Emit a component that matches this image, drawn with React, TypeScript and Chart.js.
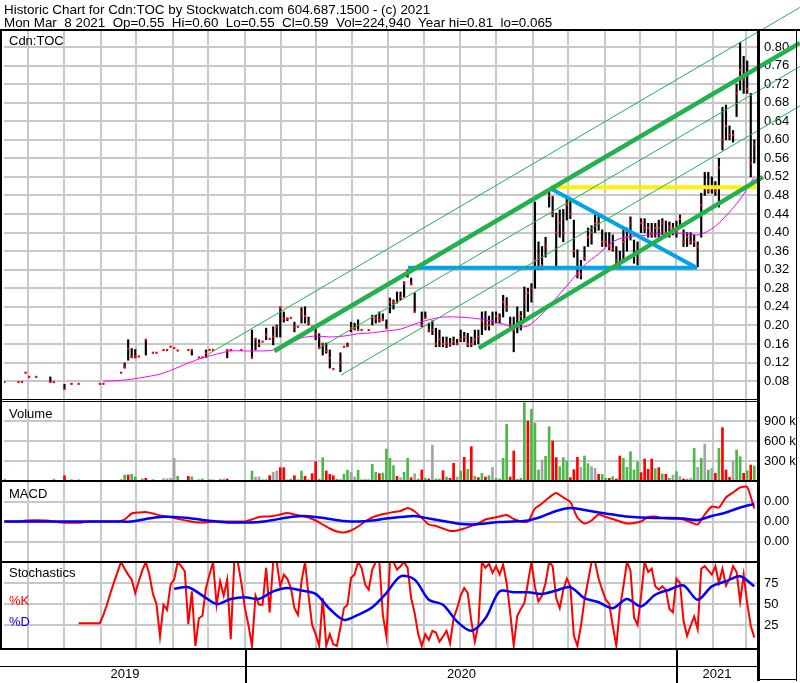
import { useEffect, useRef } from "react";
import { Chart, registerables } from "chart.js";

Chart.register(...registerables);

// x values are calendar days counted from 2019-07-01
const FIRST_DAY = -20; // first daily sample
const DAILY_STEP = 3;
const MACD_STEP = 6;
const SMOOTH_STEP = 12;
const X_MIN = -20.3;
const X_MAX = 618.3;

const monthStarts = [0, 31, 62, 92, 123, 153, 184, 215, 244, 275, 305, 336, 366, 397, 428, 458, 489, 519, 550, 581, 609];
const yearStarts = [184, 550];
const yearLabels = ["2019", "2020", "2021"];

const priceTicks = [0.08, 0.12, 0.16, 0.2, 0.24, 0.28, 0.32, 0.36, 0.4, 0.44, 0.48, 0.52, 0.56, 0.6, 0.64, 0.68, 0.72, 0.76, 0.8];
const volumeTicks = [300, 600, 900];
const macdTicks = [-0.004, 0, 0.004];
const stochTicks = [25, 50, 75];

// daily price samples (high / low / close), null = no trade
const high = [
  0.078, null, null, null, 0.078, 0.078, 0.098, 0.089, null, 0.089,
  null, null, null, 0.089, 0.078, null, null, 0.073, null, 0.074,
  null, 0.074, null, null, null, null, null, 0.074, 0.074, null,
  null, null, null, 0.098, 0.119, 0.169, 0.15, 0.148, 0.133, null,
  0.169, null, 0.141, 0.141, null, 0.147, 0.147, 0.154, 0.151, 0.146,
  null, null, 0.147, 0.147, null, 0.131, 0.131, 0.147, 0.147, 0.147,
  null, null, null, 0.147, 0.147, null, null, 0.147, null, null,
  0.19, 0.171, 0.169, 0.165, 0.194, 0.171, 0.197, 0.201, 0.24, 0.229,
  0.216, 0.216, 0.207, 0.197, 0.238, 0.24, 0.218, 0.197, 0.194, 0.182,
  0.162, 0.162, 0.147, 0.106, null, 0.141, 0.154, 0.162, 0.207, 0.205,
  0.212, 0.19, null, 0.19, 0.222, 0.222, 0.229, 0.225, 0.212, 0.259,
  0.255, 0.272, 0.272, 0.294, 0.319, 0.302, 0.27, null, 0.229, 0.229,
  0.205, 0.21, 0.194, 0.19, 0.175, 0.175, 0.172, 0.175, 0.17, 0.19,
  0.185, 0.183, 0.175, 0.19, 0.19, 0.229, 0.23, 0.22, 0.229, 0.229,
  0.225, 0.265, 0.26, 0.218, 0.218, 0.24, 0.23, 0.283, 0.28, 0.29,
  0.466, 0.38, 0.37, 0.39, 0.492, 0.478, 0.442, 0.449, 0.45, 0.478,
  0.47, 0.427, 0.363, 0.34, 0.37, 0.41, 0.415, 0.438, 0.435, 0.406,
  0.4, 0.4, 0.395, 0.37, 0.36, 0.41, 0.41, 0.434, 0.384, 0.38,
  0.43, 0.43, 0.42, 0.42, 0.42, 0.427, 0.43, 0.425, 0.423, 0.42,
  0.425, 0.438, 0.406, 0.4, 0.4, 0.395, 0.38, 0.485, 0.53, 0.53,
  0.52, 0.51, 0.56, 0.67, 0.675, 0.63, 0.62, 0.72, 0.81, 0.78,
  0.77, 0.7, 0.6,
];
const low = [
  0.078, null, null, null, 0.078, 0.078, 0.098, 0.089, null, 0.089,
  null, null, null, 0.078, 0.078, null, null, 0.063, null, 0.074,
  null, 0.074, null, null, null, null, null, 0.074, 0.074, null,
  null, null, null, 0.098, 0.108, 0.125, 0.13, 0.13, 0.133, null,
  0.136, null, 0.141, 0.141, null, 0.147, 0.147, 0.154, 0.151, 0.146,
  null, null, 0.147, 0.136, null, 0.131, 0.131, 0.131, 0.147, 0.147,
  null, null, null, 0.13, 0.147, null, null, 0.147, null, null,
  0.13, 0.147, 0.154, 0.165, 0.169, 0.171, 0.158, 0.175, 0.175, 0.207,
  0.21, 0.216, 0.186, 0.197, 0.205, 0.205, 0.201, 0.197, 0.169, 0.15,
  0.136, 0.14, 0.108, 0.106, null, 0.1, 0.154, 0.154, 0.186, 0.19,
  0.19, 0.19, null, 0.19, 0.201, 0.205, 0.207, 0.21, 0.194, 0.227,
  0.235, 0.248, 0.255, 0.261, 0.304, 0.287, 0.229, null, 0.197, 0.216,
  0.186, 0.18, 0.154, 0.154, 0.154, 0.152, 0.155, 0.158, 0.158, 0.165,
  0.165, 0.154, 0.154, 0.158, 0.16, 0.18, 0.19, 0.19, 0.201, 0.205,
  0.205, 0.218, 0.23, 0.19, 0.143, 0.184, 0.19, 0.212, 0.23, 0.25,
  0.28, 0.32, 0.32, 0.347, 0.455, 0.434, 0.326, 0.39, 0.38, 0.427,
  0.43, 0.347, 0.302, 0.3, 0.34, 0.37, 0.375, 0.4, 0.405, 0.37,
  0.37, 0.363, 0.36, 0.326, 0.322, 0.34, 0.36, 0.384, 0.334, 0.33,
  0.4, 0.4, 0.39, 0.39, 0.39, 0.39, 0.395, 0.39, 0.39, 0.395,
  0.39, 0.412, 0.37, 0.37, 0.375, 0.37, 0.326, 0.39, 0.48, 0.485,
  0.485, 0.48, 0.455, 0.578, 0.6, 0.6, 0.595, 0.65, 0.707, 0.7,
  0.7, 0.52, 0.55,
];
const close = [
  0.078, null, null, null, 0.078, 0.078, 0.098, 0.089, null, 0.089,
  null, null, null, 0.078, 0.078, null, null, 0.063, null, 0.074,
  null, 0.074, null, null, null, null, null, 0.074, 0.074, null,
  null, null, null, 0.098, 0.11, 0.15, 0.133, 0.133, 0.133, null,
  0.169, null, 0.141, 0.141, null, 0.147, 0.147, 0.154, 0.151, 0.146,
  null, null, 0.147, 0.147, null, 0.131, 0.131, 0.14, 0.147, 0.147,
  null, null, null, 0.147, 0.147, null, null, 0.147, null, null,
  0.13, 0.171, 0.16, 0.165, 0.18, 0.171, 0.176, 0.197, 0.238, 0.215,
  0.214, 0.216, 0.197, 0.197, 0.225, 0.22, 0.205, 0.197, 0.182, 0.151,
  0.16, 0.145, 0.13, 0.106, null, 0.12, 0.154, 0.156, 0.195, 0.193,
  0.19, 0.19, null, 0.19, 0.218, 0.215, 0.212, 0.212, 0.194, 0.25,
  0.25, 0.25, 0.26, 0.29, 0.319, 0.29, 0.229, null, 0.2, 0.216,
  0.19, 0.19, 0.16, 0.17, 0.16, 0.162, 0.16, 0.165, 0.16, 0.17,
  0.175, 0.16, 0.16, 0.17, 0.175, 0.21, 0.2, 0.2, 0.21, 0.22,
  0.215, 0.25, 0.24, 0.2, 0.19, 0.2, 0.22, 0.25, 0.27, 0.28,
  0.34, 0.35, 0.33, 0.37, 0.48, 0.44, 0.4, 0.42, 0.4, 0.46,
  0.44, 0.36, 0.31, 0.31, 0.345, 0.39, 0.4, 0.42, 0.42, 0.38,
  0.38, 0.37, 0.365, 0.34, 0.33, 0.38, 0.39, 0.42, 0.35, 0.36,
  0.42, 0.41, 0.41, 0.4, 0.41, 0.41, 0.42, 0.4, 0.41, 0.41,
  0.4, 0.43, 0.38, 0.39, 0.38, 0.38, 0.37, 0.46, 0.5, 0.49,
  0.5, 0.49, 0.54, 0.6, 0.63, 0.61, 0.61, 0.7, 0.75, 0.73,
  0.71, 0.55, 0.59,
];

// volume in thousands, same daily samples
const volume = [
  30, 0, 0, 0, 0, 0, 0, 0, 0, 0,
  0, 0, 0, 0, 30, 0, 0, 80, 0, 20,
  0, 20, 0, 0, 0, 0, 0, 0, 0, 0,
  0, 0, 0, 20, 90, 90, 100, 60, 0, 30,
  40, 0, 20, 0, 0, 35, 35, 40, 340, 70,
  0, 0, 70, 60, 0, 20, 30, 0, 20, 20,
  0, 30, 30, 30, 0, 0, 0, 0, 0, 0,
  150, 60, 60, 20, 20, 80, 130, 150, 200, 200,
  20, 30, 80, 20, 150, 70, 20, 110, 290, 20,
  350, 150, 100, 80, 30, 20, 100, 160, 130, 60,
  160, 20, 20, 20, 250, 130, 110, 120, 480, 340,
  230, 70, 50, 130, 340, 50, 110, 30, 165, 40,
  30, 540, 30, 30, 155, 60, 40, 265, 60, 150,
  355, 175, 515, 70, 50, 115, 60, 80, 205, 40,
  30, 340, 850, 60, 450, 25, 40, 1175, 900, 1075,
  870, 165, 315, 370, 815, 600, 350, 215, 350, 300,
  50, 170, 355, 205, 375, 260, 215, 190, 100, 100,
  40, 40, 65, 30, 375, 340, 205, 440, 165, 290,
  125, 330, 175, 330, 185, 200, 105, 100, 40, 90,
  140, 65, 30, 20, 40, 490, 205, 340, 555, 165,
  190, 115, 490, 800, 165, 55, 305, 465, 365, 115,
  155, 240, 225,
];
// g = up, r = down, n = unchanged
const volumeKind = (
  "gggggggggg ggggnggrgg gngggggggg gggggrgggg rggggnnnng ggrggggggn gnnrgggggg " +
  "gnnngrnnrr ngrggrgrrr grrrggggnn ggggggrggg grnggrngrg rnggrgrrng rgrgrgrgng " +
  "gggrrgggrg ggnggrrggg rrrnggnnrg grgrrggggg rrrrgrgrgn gnrrngngng nrgrrrnggr grg"
).replace(/ /g, "").split("");

// MACD (every 6 days)
const macd = [
  0, 0, 0, 0.0002, 0.00026, 0.00026, 0.0002, 0, -0.0002, -0.00026,
  -0.00026, -0.0002, 0, 0, 0, 0, 0, 0.0004, 0.0016, 0.0018,
  0.0019, 0.0016, 0.0012, 0.001, 0.0007, 0.0004, 0.0001, -0.00014, -0.0002, -0.0001,
  0, 0, 0, 0, 0, 0.0004, 0.0009, 0.001, 0.0011, 0.0014,
  0.0017, 0.0014, 0.0011, 0.0008, 0.0002, -0.0006, -0.0014, -0.002, -0.0022, -0.0018,
  -0.001, 0, 0.0008, 0.0013, 0.0016, 0.0019, 0.0021, 0.0027, 0.002, 0.0007,
  -0.0006, -0.0009, -0.0014, -0.0019, -0.0018, -0.0014, -0.0009, -0.0004, 0.0004, 0.0007,
  0.001, 0.0013, 0.0005, 0, 0, 0.0026, 0.0036, 0.0048, 0.0057, 0.0048,
  0.0039, 0.0008, -0.0004, 0.0002, 0.0014, 0.0009, 0.0005, 0, -0.0004, -0.0003,
  0, 0.0009, 0.001, 0.0007, 0.00054, 0.00054, 0.0004, -0.00014, -0.0006, 0.0014,
  0.003, 0.0028, 0.0048, 0.0058, 0.0068, 0.0069, 0.0026,
];
// MACD signal (every 12 days)
const macdSignal = [
  0, 0, 0, 0, 0, 0, 0, 0, 0, 0,
  0.0005, 0.0009, 0.0009, 0.0007, 0.0003, 0, -0.0002, -0.0002, -0.0001, 0.0003,
  0.0008, 0.0011, 0.0009, 0.0005, 0.0001, 0, 0.0002, 0.0006, 0.0009, 0.0011,
  0.0006, 0.0001, -0.0004, -0.0006, -0.0004, -0.0001, 0, 0.0002, 0.001, 0.0021,
  0.0027, 0.0023, 0.0018, 0.0014, 0.001, 0.0008, 0.0007, 0.0007, 0.0006, 0.0003,
  0.0011, 0.0018, 0.0028, 0.0035,
];
// Stochastics %K (daily samples)
const stochK = [
  null, null, null, null, null, null, null, null, null, null,
  null, null, null, null, null, null, null, null, null, null,
  null, 27, 27, 27, 27, 27, 27, 27, 37, 49,
  63, 76, 88, 100, 92, 85, 79, 63, 77, 90,
  100, 85, 62, 50, 11, 49, 43, 73, 79, 100,
  95, 89, 26, 65, 0, 33, 36, 69, 85, 100,
  49, 77, 60, 79, 8, 100, 100, 75, 45, 25,
  0, 60, 49, 49, 93, 40, 100, 100, 71, 85,
  80, 69, 45, 37, 77, 100, 60, 25, 14, 0,
  57, 0, 14, 2, 0, 22, 45, 49, 81, 85,
  100, 93, 73, 67, 91, 100, 100, 37, 11, 100,
  100, 91, 95, 100, 93, 57, 39, 14, 0, 14,
  7, 18, 16, 5, 11, 18, 3, 33, 45, 60,
  69, 63, 30, 5, 25, 100, 93, 98, 87, 95,
  85, 97, 75, 39, 0, 36, 44, 51, 75, 100,
  70, 53, 60, 75, 100, 95, 57, 45, 67, 80,
  71, 12, 0, 24, 55, 77, 100, 100, 80, 67,
  55, 50, 24, 0, 45, 71, 100, 90, 34, 25,
  60, 100, 88, 92, 71, 67, 71, 67, 44, 40,
  80, 75, 30, 12, 24, 35, 20, 92, 95, 90,
  85, 95, 75, 92, 72, 80, 95, 88, 53, 85,
  51, 24, 10,
];
// Stochastics %D (every 12 days)
const stochD = [
  null, null, null, null, null, null, null, null, null, null,
  null, null, 68, 70, 60, 50, 56, 58, 56, 65,
  69, 66, 62, 44, 31, 37, 46, 63, 83, 79,
  55, 49, 29, 18, 33, 65, 64, 64, 62, 66,
  70, 57, 52, 45, 56, 47, 61, 67, 72, 55,
  71, 77, 83, 71,
];
// moving average (every 12 days)
const movingAvg = [
  null, null, null, null, null, null, null, 0.08, 0.081, 0.084,
  0.089, 0.095, 0.106, 0.119, 0.13, 0.138, 0.145, 0.145, 0.145, 0.147,
  0.16, 0.173, 0.177, 0.175, 0.177, 0.182, 0.184, 0.188, 0.192, 0.203,
  0.212, 0.218, 0.218, 0.216, 0.212, 0.205, 0.197, 0.199, 0.225, 0.259,
  0.294, 0.33, 0.354, 0.38, 0.391, 0.393, 0.397, 0.397, 0.399, 0.395,
  0.408, 0.436, 0.472, 0.52,
];

// drawn trend lines: [day, price] end points
const channelThick = [
  [[208.9, 0.1448], [654.7, 0.8086]],
  [[382.3, 0.151], [623.4, 0.52]],
];
const channelThin = [
  [[153.1, 0.1384], [654.7, 0.8853]],
  [[247.0, 0.151], [654.7, 0.758]],
  [[265.6, 0.093], [654.7, 0.673]],
];
const triangleBlue = [
  [[322.3, 0.324], [567.5, 0.324]],
  [[444.0, 0.494], [565.9, 0.326]],
];
const resistanceYellow = [[443.2, 0.498], [620.8, 0.498]];

const FONT = '"Liberation Sans", Arial, Helvetica, sans-serif';
const GRID = "#c8c8c8";

const dayOf = (start: number, step: number, i: number) => start + step * i;

function lineSet(pts: number[][], color: string, width: number) {
  return {
    type: "line" as const,
    yAxisID: "yp",
    data: pts.map(([x, y]) => ({ x, y })),
    borderColor: color,
    borderWidth: width,
    pointRadius: 0,
    clip: false as any,
    order: 0,
  };
}

const framePlugin = {
  id: "frame",
  afterDraw(chart: any) {
    const { ctx, chartArea, scales } = chart;
    const xs = scales.x;
    const R = chartArea.right;
    const B = chartArea.bottom;
    const T = chartArea.top;
    ctx.save();
    ctx.fillStyle = "#000";
    ctx.fillRect(0, T - 2, chart.width, 2);
    ctx.fillRect(0, T - 2, 2, B - T + 4);
    ctx.fillRect(0, scales.yv.top - 1, R, 1);
    ctx.fillRect(0, scales.yv.top + 1, R, 1);
    ctx.fillRect(0, scales.ym.top - 1, R, 2);
    ctx.fillRect(0, scales.ys.top - 1, R, 2);
    ctx.fillRect(0, B, R, 2);
    ctx.fillRect(0, B + 18, R, 1);
    const bounds = [chartArea.left];
    for (const d of yearStarts) {
      const px = Math.round(xs.getPixelForValue(d)) + 1;
      ctx.fillRect(px - 1, B, 2, 35);
      bounds.push(px);
    }
    bounds.push(R);
    ctx.fillRect(R, T - 2, 3, 652);
    ctx.fillRect(chart.width - 4, T - 2, 1, 652);
    ctx.fillRect(R, 679, chart.width - 4 - R, 1);
    ctx.font = `13px ${FONT}`;
    ctx.textAlign = "center";
    ctx.textBaseline = "alphabetic";
    yearLabels.forEach((t, i) => ctx.fillText(t, (bounds[i] + bounds[i + 1]) / 2, 678));
    ctx.restore();
  },
};

function yAxis(weight: number, min: number, max: number, ticks: number[], fmt: (v: number) => string) {
  return {
    type: "linear" as const,
    position: "right" as const,
    stack: "panels",
    stackWeight: weight,
    min,
    max,
    offset: false,
    afterBuildTicks: (s: any) => {
      s.ticks = ticks.map((v) => ({ value: v }));
    },
    afterFit: (s: any) => {
      s.width = 40;
    },
    ticks: {
      autoSkip: false,
      padding: 7,
      color: "#000",
      font: { family: FONT, size: 13 },
      callback: (v: any) => fmt(Number(v)),
    },
    grid: { color: GRID, lineWidth: 2, drawTicks: false },
    border: { display: false },
  };
}

export default function App() {
  const ref = useRef<HTMLCanvasElement>(null);

  useEffect(() => {
    const bars: any[] = [];
    const closes: any[] = [];
    high.forEach((h, i) => {
      if (h == null) return;
      const x = dayOf(FIRST_DAY, DAILY_STEP, i);
      bars.push({ x, y: [low[i], h] });
      closes.push({ x, y: close[i] });
    });
    const volColors = { g: "#4cb848", r: "#ff0000", n: "#a4a4a4" } as any;
    const volData = volume.map((v, i) => ({ x: dayOf(FIRST_DAY, DAILY_STEP, i), y: v }));

    const chart = new Chart(ref.current!, {
      type: "bar",
      data: {
        datasets: [
          ...channelThick.map((p) => lineSet(p, "#22b14c", 4.5)),
          ...channelThin.map((p) => lineSet(p, "#22b14c", 1)),
          ...triangleBlue.map((p) => lineSet(p, "#00a2e8", 4)),
          lineSet(resistanceYellow, "#fff200", 4),
          {
            type: "line",
            yAxisID: "yp",
            data: movingAvg.map((v, k) => ({ x: dayOf(FIRST_DAY, SMOOTH_STEP, k), y: v })),
            borderColor: "#ff00ff",
            borderWidth: 1,
            pointRadius: 0,
            tension: 0.3,
            order: 1,
          } as any,
          {
            type: "line",
            yAxisID: "yp",
            data: closes,
            showLine: false,
            pointStyle: "rect",
            pointRadius: 1.5,
            backgroundColor: "#ff0000",
            borderWidth: 0,
            order: 2,
          } as any,
          {
            type: "bar",
            yAxisID: "yp",
            data: bars,
            backgroundColor: "#000",
            barThickness: 1.5,
            grouped: false,
            order: 3,
          } as any,
          {
            type: "bar",
            yAxisID: "yv",
            data: volData,
            backgroundColor: volumeKind.map((c) => volColors[c]),
            barThickness: 2,
            grouped: false,
            order: 3,
          } as any,
          {
            type: "line",
            yAxisID: "ym",
            data: macd.map((v, m) => ({ x: dayOf(FIRST_DAY, MACD_STEP, m), y: v })),
            borderColor: "#ff0000",
            borderWidth: 2,
            pointRadius: 0,
            tension: 0.2,
            order: 2,
          } as any,
          {
            type: "line",
            yAxisID: "ym",
            data: macdSignal.map((v, k) => ({ x: dayOf(FIRST_DAY, SMOOTH_STEP, k), y: v })),
            borderColor: "#0000ff",
            borderWidth: 2.5,
            pointRadius: 0,
            tension: 0.3,
            order: 1,
          } as any,
          {
            type: "line",
            yAxisID: "ys",
            data: stochK.map((v, i) => ({ x: dayOf(FIRST_DAY, DAILY_STEP, i), y: v })),
            borderColor: "#ff0000",
            borderWidth: 2,
            pointRadius: 0,
            tension: 0,
            order: 2,
          } as any,
          {
            type: "line",
            yAxisID: "ys",
            data: stochD.map((v, k) => ({ x: dayOf(FIRST_DAY, SMOOTH_STEP, k), y: v })),
            borderColor: "#0000ff",
            borderWidth: 2.5,
            pointRadius: 0,
            tension: 0.3,
            order: 1,
          } as any,
        ],
      },
      options: {
        animation: false,
        responsive: false,
        maintainAspectRatio: false,
        devicePixelRatio: 1,
        events: [],
        layout: { padding: { top: 31, left: 2, right: 3, bottom: 35 } },
        plugins: { legend: { display: false }, tooltip: { enabled: false } },
        scales: {
          x: {
            type: "linear",
            position: "bottom",
            min: X_MIN,
            max: X_MAX,
            offset: false,
            afterBuildTicks: (s: any) => {
              s.ticks = monthStarts.map((v) => ({ value: v }));
            },
            afterFit: (s: any) => {
              s.height = 0;
            },
            ticks: { display: false },
            grid: { color: GRID, lineWidth: 2, drawTicks: false, offset: false },
            border: { display: false },
          },
          yp: yAxis(369, 0.03922, 0.83448, priceTicks, (v) => v.toFixed(2)),
          yv: yAxis(81, 0, 1215, volumeTicks, (v) => `${v} k`),
          ym: yAxis(81, -0.0081, 0.0081, macdTicks, (v) => (Math.round(v * 100) / 100 + 0).toFixed(2)),
          ys: yAxis(86, -2.5, 100, stochTicks, (v) => String(v)),
        } as any,
      },
      plugins: [framePlugin],
    } as any);
    return () => chart.destroy();
  }, []);

  const label = (text: string, left: number, top: number, color = "#000", size = 13) => (
    <div
      style={{
        position: "absolute",
        left,
        top,
        font: `${size}px ${FONT}`,
        lineHeight: `${size}px`,
        whiteSpace: "pre",
        color,
      }}
    >
      {text}
    </div>
  );

  return (
    <div style={{ position: "fixed", left: 0, top: 0, width: 800, height: 683, background: "#fff", overflow: "hidden" }}>
      <canvas ref={ref} width={800} height={683} style={{ position: "absolute", left: 0, top: 0, width: 800, height: 683 }} />
      {label("Historic Chart for Cdn:TOC by Stockwatch.com 604.687.1500 - (c) 2021", 4, 2.5, "#000", 13.4)}
      {label("Mon Mar  8 2021  Op=0.55  Hi=0.60  Lo=0.55  Cl=0.59  Vol=224,940  Year hi=0.81  lo=0.065", 4, 16, "#000", 13.4)}
      {label("Cdn:TOC", 9, 34)}
      {label("Volume", 9, 407)}
      {label("MACD", 9, 487)}
      {label("Stochastics", 9, 566)}
      {label("%K", 9, 594, "#ff0000")}
      {label("%D", 9, 615, "#0000ff")}
    </div>
  );
}
